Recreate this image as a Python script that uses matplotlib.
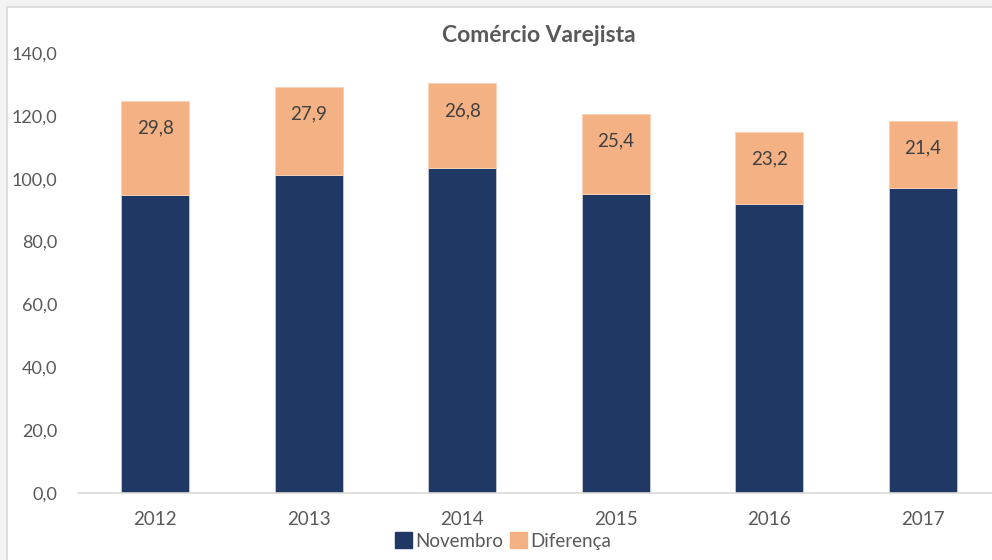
import matplotlib
matplotlib.use("Agg")
import matplotlib.pyplot as plt
from matplotlib.patches import Rectangle, Patch
import numpy as np

years = ["2012", "2013", "2014", "2015", "2016", "2017"]
novembro = [94.9, 101.3, 103.5, 95.2, 91.8, 97.1]
diferenca = [29.8, 27.9, 26.8, 25.4, 23.2, 21.4]
diff_labels = ["29,8", "27,9", "26,8", "25,4", "23,2", "21,4"]
yticks = [0, 20, 40, 60, 80, 100, 120, 140]
ytick_labels = ["0,0", "20,0", "40,0", "60,0", "80,0", "100,0", "120,0", "140,0"]

NAVY = "#1F3864"
PEACH = "#F4B183"
GRAY = "#595959"

plt.rcParams['font.family'] = ['Lato', 'DejaVu Sans']

W, H = 992, 560
fig = plt.figure(figsize=(W / 100, H / 100), dpi=100)
fig.patch.set_facecolor("#f3f3f3")
fig.patches.append(Rectangle((7 / W, -0.1), 1.1, (H - 7) / H + 0.1, transform=fig.transFigure,
                             facecolor="white", edgecolor="#d9d9d9", linewidth=1.2, zorder=-10))

left = 78.3 / W
right = 999.5 / W
bottom = (H - 493) / H
top = (H - 53) / H
ax = fig.add_axes([left, bottom, right - left, top - bottom])
ax.set_facecolor("none")
ax.set_zorder(1)

x = np.arange(len(years))
bw = 0.443
ax.bar(x, novembro, width=bw, color=NAVY, edgecolor="#c8ccd4", linewidth=0.6, zorder=2)
ax.bar(x, diferenca, width=bw, bottom=novembro, color=PEACH, edgecolor="#f8d3b8", linewidth=0.6, zorder=2)

for xi, n, d, lab in zip(x, novembro, diferenca, diff_labels):
    ax.annotate(lab, (xi, n + d), xytext=(0, -19.5), textcoords="offset points",
                ha="center", va="center", fontsize=13.5, color="#404040", zorder=3)

ax.set_xlim(-0.5, len(years) - 0.5)
ax.set_ylim(0, 140)
ax.set_yticks(yticks)
ax.set_yticklabels(ytick_labels, fontsize=13, color=GRAY)
ax.set_xticks(x)
ax.set_xticklabels(years, fontsize=13.5, color=GRAY)
ax.tick_params(axis="both", length=0)
ax.tick_params(axis="y", pad=15)
ax.tick_params(axis="x", pad=13)
for s in ["top", "right", "left"]:
    ax.spines[s].set_visible(False)
ax.spines["bottom"].set_color("#d9d9d9")
ax.spines["bottom"].set_linewidth(1.2)
ax.spines["bottom"].set_zorder(3)

fig.text(539 / W, 1 - 35 / H, "Comércio Varejista", ha="center", va="center",
         fontsize=16.5, fontweight="bold", color=GRAY)

handles = [Patch(facecolor=NAVY, edgecolor=NAVY), Patch(facecolor=PEACH, edgecolor=PEACH)]
fig.legend(handles, ["Novembro", "Diferença"], loc="center", bbox_to_anchor=(503 / W, 1 - 541 / H),
           ncol=2, frameon=False, fontsize=13.5, handlelength=0.9, handleheight=0.9,
           handletextpad=0.15, columnspacing=0.4, labelcolor=GRAY)

fig.savefig("out.png", dpi=100, facecolor=fig.get_facecolor())
